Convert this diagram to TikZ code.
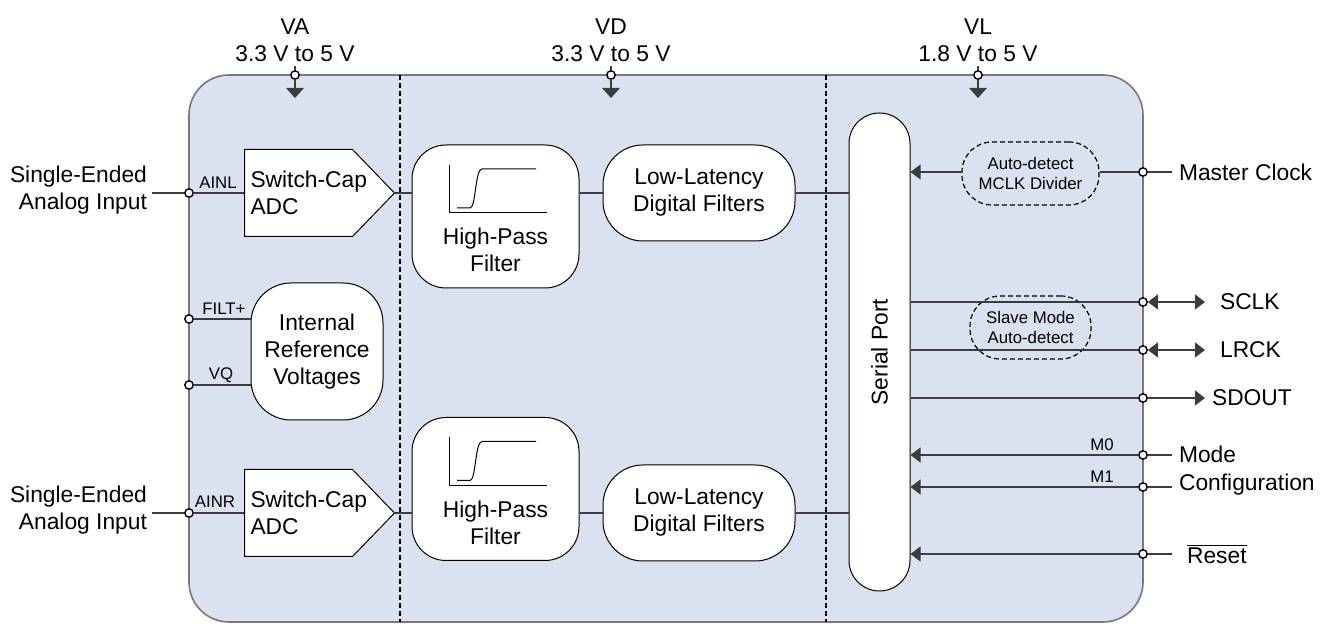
\documentclass[tikz,border=0pt]{standalone}
\usepackage{fontspec}
\setmainfont{Liberation Sans}
\usetikzlibrary{arrows.meta,shapes.symbols,positioning}
\definecolor{chipblue}{RGB}{218,225,241}
\definecolor{framegray}{RGB}{120,120,120}
\definecolor{wiregray}{RGB}{60,60,60}

\begin{document}
\begin{tikzpicture}[x=0.5pt, y=-0.5pt,
    every node/.style={font=\fontsize{11.4}{13.5}\selectfont},
    pincirc/.style={circle, draw=black, fill=white, line width=0.7pt, inner sep=0pt, minimum size=4.2pt},
    pinlbl/.style={font=\fontsize{8.4}{9.7}\selectfont, inner sep=1pt},
    wire/.style={draw=wiregray, line width=0.6pt},
    intotip/.style={-{Triangle[width=7.5pt,length=5pt]}},
    outtip/.style={-{Triangle[width=7.5pt,length=5pt]}},
    bothtips/.style={{Triangle[width=7.5pt,length=5pt]}-{Triangle[width=7.5pt,length=5pt]}},
    supply/.style={-{Triangle[width=8.8pt,length=5pt]}},
    sep/.style={draw=black, line width=0.6pt, dash pattern=on 2.5pt off 1.5pt},
    block/.style={draw=black, fill=white, line width=0.5pt, align=center},
    adc/.style={block, signal, signal to=east, signal pointer angle=92, text width=48pt, inner xsep=3pt, minimum height=43.5pt, align=left},
    hpf/.style={block, rounded corners=17pt, minimum width=83.5pt, minimum height=71.5pt},
    lldf/.style={block, rounded corners=20pt, minimum width=96pt, minimum height=48pt},
    refbox/.style={block, rounded corners=20pt, minimum width=66pt, minimum height=68.5pt},
    spbox/.style={block, rounded corners=15.25pt, minimum width=30.5pt, minimum height=239pt},
    autobox/.style={draw=black, line width=0.6pt, dash pattern=on 2.5pt off 1.5pt, rounded corners=15pt, minimum height=31.5pt, align=center, inner sep=1pt, font=\fontsize{8.4}{9.7}\selectfont}]
\useasboundingbox (0,0) rectangle (1329,624);
\draw[fill=chipblue, draw=framegray, line width=0.8pt, rounded corners=20pt] (189,75) rectangle (1143,622);
\foreach \xs in {400,826} \draw[sep] (\xs,75) -- (\xs,622);

\foreach \n/\x/\t/\v in {va/295/VA/3.3 V to 5 V, vd/611/VD/3.3 V to 5 V, vl/978/VL/1.8 V to 5 V} {
  \node[pincirc] (\n Pin) at (\x,75) {};
  \node[align=center] (\n Lbl) at (\x,40) {\t\\\v};
  \draw[wire] (\n Pin) -- ++(0,-9);
  \draw[wire, supply] (\n Pin) -- ++(0,23);
}

\node[pincirc] (ainlPin) at (189,193) {};
\node[pincirc] (filtPin) at (189,319) {};
\node[pincirc] (vqPin) at (189,385) {};
\node[pincirc] (ainrPin) at (189,513) {};
\coordinate (ainlIn) at (152,193);
\coordinate (ainrIn) at (152,513);
\node[anchor=east, align=right] (ainlLbl) at (154,190.5) {Single-Ended\\Analog Input};
\node[anchor=east, align=right] (ainrLbl) at (154,510.5) {Single-Ended\\Analog Input};
\node[pinlbl] (ainlTag) at (218,183) {AINL};
\node[pinlbl] (filtTag) at (224,309) {FILT+};
\node[pinlbl] (vqTag) at (221,375) {VQ};
\node[pinlbl] (ainrTag) at (215,502) {AINR};

\node[adc, anchor=west] (adcL) at (244,193) {\mbox{Switch-Cap}\\ADC};
\node[adc, anchor=west] (adcR) at (244,513) {\mbox{Switch-Cap}\\ADC};
\node[refbox] (intRef) at (317,351.5) {Internal\\Reference\\Voltages};

\foreach \f/\yc in {hpfTop/216.5, hpfBot/489} {
  \node[hpf] (\f) at (495.5,\yc) {};
  \node[align=center] (\f Txt) at (495.5,{\yc+33.5}) {High-Pass\\Filter};
  \begin{scope}[shift={(\f.center)}]
    \draw[line width=0.5pt] (-46.5,-51.5) -- (-46.5,-3.5) -- (51.5,-3.5);
    \draw[line width=0.5pt] (-38.5,-8.5) -- (-25.5,-8.5) .. controls (-19.5,-8.5) and (-20.5,-47.5) .. (-13.5,-47.5) -- (40.5,-47.5);
  \end{scope}
}
\node[lldf] (lldfTop) at (699,193) {Low-Latency\\Digital Filters};
\node[lldf] (lldfBot) at (699,513) {Low-Latency\\Digital Filters};

\node[spbox] (serialPort) at (879.5,352) {\rotatebox{90}{Serial Port}};
\node[autobox, minimum width=68.5pt] (mclkDiv) at (1030.5,173.5) {Auto-detect\\MCLK Divider};
\node[autobox, minimum width=60.5pt] (slaveDet) at (1030.5,327.5) {Slave Mode\\Auto-detect};

\node[pincirc] (mclkPin) at (1143,172) {};
\node[pincirc] (sclkPin) at (1143,302) {};
\node[pincirc] (lrckPin) at (1143,350) {};
\node[pincirc] (sdoutPin) at (1143,398) {};
\node[pincirc] (m0Pin) at (1143,455) {};
\node[pincirc] (m1Pin) at (1143,487) {};
\node[pincirc] (resetPin) at (1143,554) {};
\coordinate (mclkOut) at (1172,172);
\coordinate (sclkOut) at (1205,302);
\coordinate (lrckOut) at (1205,350);
\coordinate (sdoutOut) at (1205,398);
\coordinate (m0Out) at (1172,455);
\coordinate (m1Out) at (1172,487);
\coordinate (resetOut) at (1172,554);
\node[anchor=west] (mclkLbl) at (mclkOut) {Master Clock};
\node[anchor=west] (sclkLbl) at ([xshift=4pt]sclkOut) {SCLK};
\node[anchor=west] (lrckLbl) at ([xshift=4pt]lrckOut) {LRCK};
\node[anchor=west] (sdoutLbl) at (sdoutOut) {SDOUT};
\node[anchor=west, align=left, font=\fontsize{11.4}{14}\selectfont] (modeLbl) at (1172,471) {Mode\\Configuration};
\node[anchor=west] (resetLbl) at (1180,554) {$\overline{\mbox{Reset}}$};
\node[pinlbl] (m0Tag) at (1102,445) {M0};
\node[pinlbl] (m1Tag) at (1102,477) {M1};

\draw[wire] (ainlIn) -- (ainlPin) -- (adcL.west);
\draw[wire] (ainrIn) -- (ainrPin) -- (adcR.west);
\draw[wire] (filtPin) -- (intRef.west |- filtPin);
\draw[wire] (vqPin) -- (intRef.west |- vqPin);
\draw[wire] (adcL.east) -- (hpfTop.west |- adcL.east);
\draw[wire] (adcR.east) -- (hpfBot.west |- adcR.east);
\draw[wire] (hpfTop.east |- lldfTop) -- (lldfTop);
\draw[wire] (hpfBot.east |- lldfBot) -- (lldfBot);
\draw[wire] (lldfTop) -- (serialPort.west |- lldfTop);
\draw[wire] (lldfBot) -- (serialPort.west |- lldfBot);

\draw[wire] (mclkOut) -- (mclkPin) -- (mclkDiv.east |- mclkPin);
\draw[wire, intotip] (mclkDiv.west |- mclkPin) -- (serialPort.east |- mclkPin);
\draw[wire] (serialPort.east |- sclkPin) -- (sclkPin);
\draw[wire] (serialPort.east |- lrckPin) -- (lrckPin);
\draw[wire] (serialPort.east |- sdoutPin) -- (sdoutPin);
\draw[wire, bothtips] (sclkPin) -- (sclkOut);
\draw[wire, bothtips] (lrckPin) -- (lrckOut);
\draw[wire, outtip] (sdoutPin) -- (sdoutOut);
\foreach \p in {m0,m1,reset} {
  \draw[wire, intotip] (\p Pin) -- (serialPort.east |- \p Pin);
  \draw[wire] (\p Pin) -- (\p Out);
}
\end{tikzpicture}
\end{document}
